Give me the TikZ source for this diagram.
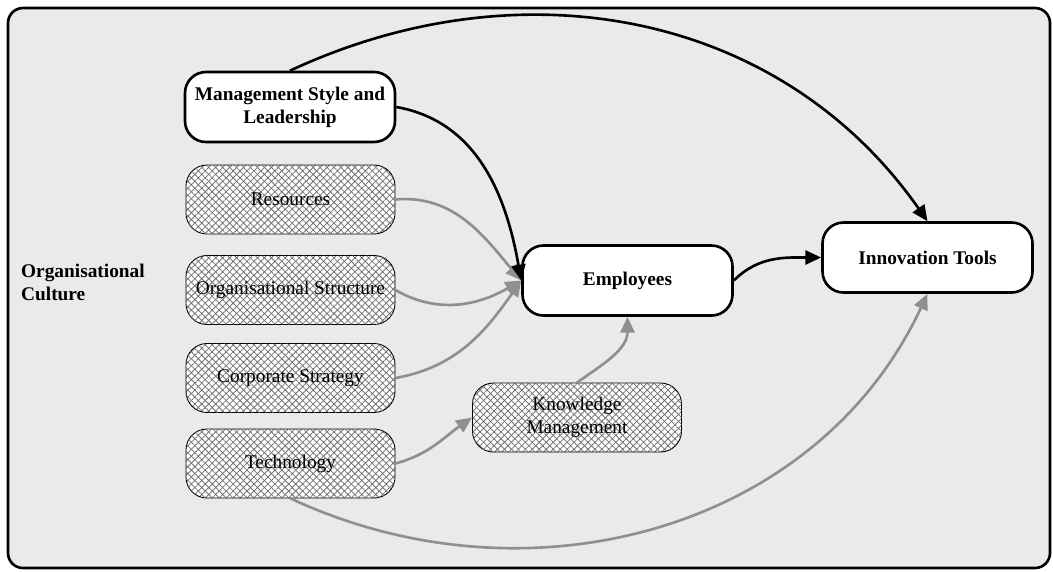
\documentclass[tikz,border=0pt]{standalone}
\usepackage{fontspec}
\setmainfont{Liberation Serif}
\usetikzlibrary{arrows.meta,patterns.meta}
\definecolor{bggray}{HTML}{EAEAEA}
\definecolor{arrgray}{HTML}{8F8F8F}
\begin{document}
\begin{tikzpicture}[
    mainbox/.style={draw, line width=1.5pt, fill=white, rounded corners=0.42cm,
      minimum width=4.2cm, minimum height=1.4cm, align=center, font=\bfseries\fontsize{11}{13}\selectfont},
    hatchbox/.style={draw, line width=0.5pt, rounded corners=0.42cm,
      minimum width=4.18cm, minimum height=1.38cm, align=center,
      font=\fontsize{11}{13}\selectfont,
      preaction={fill=white},
      pattern={Lines[angle=45, distance=2.8pt, line width=0.45pt]}, pattern color=black!55,
      postaction={pattern={Lines[angle=-45, distance=2.8pt, line width=0.45pt]}, pattern color=black!55}},
    blackarr/.style={line width=1.5pt, -{Triangle[length=9pt,width=8pt]}},
    grayarr/.style={line width=1.5pt, draw=arrgray, -{Triangle[length=9pt,width=8pt]}}]
  \useasboundingbox (0,0) rectangle (21.06,-11.42);
  \draw[line width=1.5pt, fill=bggray, rounded corners=0.3cm] (0.16,-0.16) rectangle (21.0,-11.36);
  \node[align=left, anchor=west, font=\bfseries\fontsize{11}{13}\selectfont] (culture) at (0.3,-5.64) {Organisational\\Culture};

  \node[mainbox] (mgmt) at (5.80,-2.14) {Management Style and\\Leadership};
  \node[hatchbox] (res) at (5.81,-3.99) {Resources};
  \node[hatchbox] (struct) at (5.81,-5.80) {Organisational Structure};
  \node[hatchbox] (strat) at (5.81,-7.56) {Corporate Strategy};
  \node[hatchbox] (tech) at (5.81,-9.27) {Technology};
  \node[hatchbox] (know) at (11.54,-8.35) {Knowledge\\Management};
  \node[mainbox] (emp) at (12.55,-5.61) {Employees};
  \node[mainbox] (innov) at (18.55,-5.15) {Innovation Tools};

  % influences on employees
  \draw[grayarr] (res.east) to[out=5, in=130] (emp.west);
  \draw[grayarr] (struct.east) to[out=-30, in=-150] (emp.west);
  \draw[grayarr] (strat.east) to[out=10, in=-125] (emp.west);
  \draw[blackarr] (mgmt.east) to[out=-10, in=100] (emp.west);
  \draw[grayarr] (tech.east) to[out=15, in=-145] (know.west);
  \draw[grayarr] (know.north) to[out=35, in=-90] (emp.south);

  % influences on innovation tools
  \draw[blackarr] (mgmt.north) to[out=25, in=125] (innov.north);
  \draw[blackarr] (emp.east) to[out=45, in=180] (innov.west);
  \draw[grayarr] (tech.south) to[out=-25, in=-115] (innov.south);
\end{tikzpicture}
\end{document}
